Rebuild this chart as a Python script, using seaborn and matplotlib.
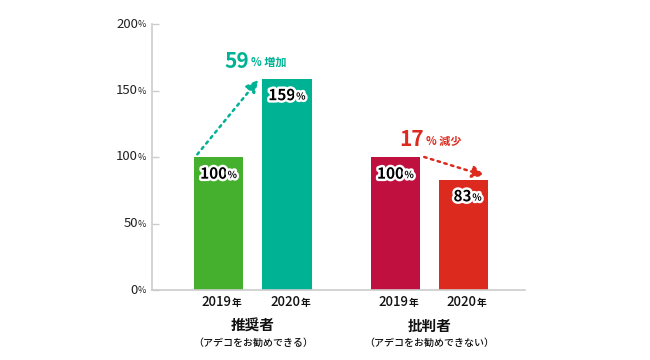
import matplotlib
matplotlib.use("Agg")
import matplotlib.pyplot as plt
import matplotlib.patheffects as pe
import seaborn as sns
import pandas as pd

# ---- data ----
groups = ["推奨者", "推奨者", "批判者", "批判者"]
years = ["2019", "2020", "2019", "2020"]
values = [100, 159, 100, 83]
bar_colors = ["#45b02d", "#00b294", "#c0103f", "#dc2a1f"]
group_names = ["推奨者", "批判者"]
group_subs = ["（アデコをお勧めできる）", "（アデコをお勧めできない）"]
changes = ["59", "17"]
change_words = ["増加", "減少"]
change_colors = ["#00b294", "#dc2a1f"]
yticks = [0, 50, 100, 150, 200]

sns.set_theme(style="white")
plt.rcParams["font.family"] = ["Noto Sans CJK JP", "DejaVu Sans"]

pos = [0, 1, 2.58, 3.57]
df = pd.DataFrame({"pos": pos, "value": values, "year": years})

fig = plt.figure(figsize=(6.5, 3.6), dpi=100)
ax = fig.add_axes([152 / 650, 1 - 290 / 360, (525 - 152) / 650, (290 - 24) / 360])

sns.barplot(data=df, x="pos", y="value", hue="pos", palette=bar_colors,
            native_scale=True, width=0.73, legend=False, ax=ax,
            saturation=1, edgecolor="none")

ax.set_xlim(-0.971, 4.47)
ax.set_ylim(0, 200)
ax.set_yticks(yticks)
ax.set_yticklabels([])
ax.tick_params(axis="y", direction="in", length=5, width=1, color="#cccccc", pad=4, left=True)
for v in yticks:
    ax.annotate(f"{v}", (0, v), xycoords=("axes fraction", "data"), xytext=(-10, 0),
                textcoords="offset points", ha="right", va="center",
                fontsize=9.5, color="#222222", annotation_clip=False)
    ax.annotate("%", (0, v), xycoords=("axes fraction", "data"), xytext=(-10, -0.5),
                textcoords="offset points", ha="left", va="center",
                fontsize=6.5, color="#222222", annotation_clip=False)
ax.set_xticks([])
ax.set_xlabel("")
ax.set_ylabel("")
for s in ["top", "right"]:
    ax.spines[s].set_visible(False)
ax.spines["left"].set_color("#cccccc")
ax.spines["bottom"].set_color("#cccccc")
ax.spines["left"].set_linewidth(1.2)
ax.spines["bottom"].set_linewidth(1.2)

stroke = [pe.withStroke(linewidth=3.5, foreground="white")]
for x, v, yr in zip(pos, values, years):
    ax.annotate(f"{v}", (x, v), xytext=(6, -12), textcoords="offset points",
                ha="right", va="center", fontsize=11, fontweight="bold",
                color="black", path_effects=stroke)
    ax.annotate("%", (x, v), xytext=(6.5, -13), textcoords="offset points",
                ha="left", va="center", fontsize=7, fontweight="bold",
                color="black", path_effects=stroke)
    ax.annotate(yr, (x, 0), xytext=(9.5, -9), textcoords="offset points",
                ha="right", va="center", fontsize=9.5, fontweight="medium",
                color="#111111", annotation_clip=False)
    ax.annotate("年", (x, 0), xytext=(9.5, -9.5), textcoords="offset points",
                ha="left", va="center", fontsize=7, fontweight="bold",
                color="#111111", annotation_clip=False)

for i, (name, sub) in enumerate(zip(group_names, group_subs)):
    cx = (pos[2 * i] + pos[2 * i + 1]) / 2
    ax.annotate(name, (cx, 0), xytext=(0, -26), textcoords="offset points",
                ha="center", va="center", fontsize=10.5, fontweight="bold",
                color="#111111", annotation_clip=False)
    ax.annotate(sub, (cx, 0), xytext=(0, -38), textcoords="offset points",
                ha="center", va="center", fontsize=7.2, fontweight="medium",
                color="#111111", annotation_clip=False)

# change arrows
for i in range(2):
    x0, x1 = pos[2 * i], pos[2 * i + 1]
    v0, v1 = values[2 * i], values[2 * i + 1]
    c = change_colors[i]
    if v1 > v0:
        start = (x0 - 0.31, v0 + 2)
        end = (x1 - 0.42, v1 - 1)
        tx, ty = x0 + 0.46, v1 + 13
    else:
        start = (x0 + 0.42, v0)
        end = (x1 + 0.31, v1 + 3)
        tx, ty = x0 + 0.43, v0 + 13
    ax.annotate("", xy=end, xytext=start,
                arrowprops=dict(arrowstyle="-|>,head_length=0.6,head_width=0.3",
                                color=c, lw=1.8, linestyle=(0, (1, 1.8)),
                                shrinkA=0, shrinkB=0))
    ax.annotate(changes[i], (tx, ty), xytext=(-1, 0), textcoords="offset points",
                ha="right", va="center", fontsize=15, fontweight="bold", color=c)
    ax.annotate(f"% {change_words[i]}", (tx, ty), xytext=(1, -1), textcoords="offset points",
                ha="left", va="center", fontsize=8, fontweight="bold", color=c)

fig.savefig("out.png", dpi=100)
